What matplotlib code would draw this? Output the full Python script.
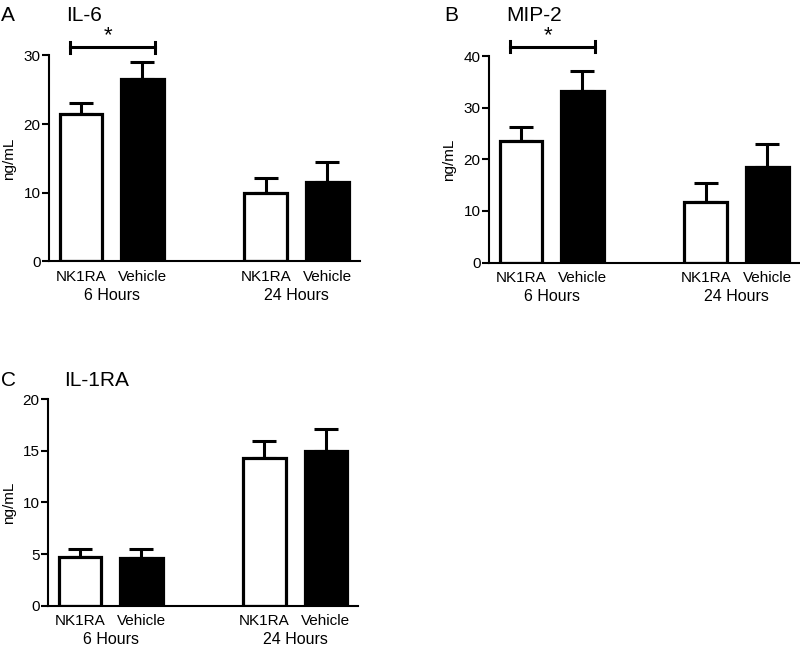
import matplotlib
matplotlib.use('Agg')
import matplotlib.pyplot as plt
import numpy as np

matplotlib.rcParams['font.family'] = ['Liberation Sans', 'DejaVu Sans']

# values: order = NK1RA 6h, Vehicle 6h, NK1RA 24h, Vehicle 24h
groups = ['NK1RA', 'Vehicle', 'NK1RA', 'Vehicle']
times = ['6 Hours', '24 Hours']
il6_mean = [21.4, 26.6, 10.0, 11.5]
il6_sem = [1.6, 2.5, 2.2, 3.0]
mip2_mean = [23.6, 33.3, 11.7, 18.5]
mip2_sem = [2.6, 3.8, 3.7, 4.5]
il1ra_mean = [4.75, 4.6, 14.3, 15.0]
il1ra_sem = [0.7, 0.9, 1.7, 2.1]

xpos = np.array([0, 1, 3, 4])
colors = ['white', 'black', 'white', 'black']


def panel(ax, mean, sem, ymax, step, sig=None):
    ax.errorbar(xpos, mean, yerr=[np.zeros(4), sem], fmt='none', ecolor='black',
                elinewidth=2.2, capsize=8.5, capthick=2.2, zorder=1)
    ax.bar(xpos, mean, width=0.69, color=colors, edgecolor='black',
           linewidth=2.3, zorder=2)
    ax.set_xlim(-0.52, 4.53)
    ax.set_ylim(0, ymax)
    ax.set_yticks(np.arange(0, ymax + 1, step))
    ax.spines['top'].set_visible(False)
    ax.spines['right'].set_visible(False)
    ax.spines['left'].set_linewidth(1.5)
    ax.spines['bottom'].set_linewidth(1.5)
    ax.tick_params(axis='y', direction='out', length=5, width=1.5, pad=1, labelsize=11)
    ax.set_xticks(xpos)
    ax.set_xticklabels(groups, fontsize=11)
    ax.tick_params(axis='x', length=0, pad=6)
    for xc, t in zip([0.5, 3.5], times):
        ax.annotate(t, xy=(xc, 0), xycoords=('data', 'axes fraction'),
                    xytext=(0, -19), textcoords='offset points',
                    ha='center', va='top', fontsize=11.5)
    ax.set_ylabel('ng/mL', fontsize=11, labelpad=5)
    if sig is not None:
        yb = sig
        ax.plot([-0.18, 1.2], [yb, yb], color='black', lw=2.2, clip_on=False)
        h = ymax * 0.027
        ax.plot([-0.18, -0.18], [yb - h, yb + h], color='black', lw=2.2, clip_on=False)
        ax.plot([1.2, 1.2], [yb - h, yb + h], color='black', lw=2.2, clip_on=False)
        ax.text(0.44, yb + ymax * 0.005, '*', ha='center', va='bottom',
                fontsize=16, clip_on=False)


fig = plt.figure(figsize=(8, 6.45), dpi=100)
axA = fig.add_axes([0.061, 0.595, 0.389, 0.319])
axB = fig.add_axes([0.611, 0.593, 0.389, 0.320])
axC = fig.add_axes([0.060, 0.061, 0.388, 0.320])

panel(axA, il6_mean, il6_sem, 30, 10, sig=31.2)
panel(axB, mip2_mean, mip2_sem, 40, 10, sig=41.8)
panel(axC, il1ra_mean, il1ra_sem, 20, 5)

H = 645.0
fig.text(1 / 800, 1 - 6 / H, 'A', fontsize=15, va='top', ha='left')
fig.text(66 / 800, 1 - 6 / H, 'IL-6', fontsize=15, va='top', ha='left')
fig.text(444 / 800, 1 - 6 / H, 'B', fontsize=15, va='top', ha='left')
fig.text(506 / 800, 1 - 6 / H, 'MIP-2', fontsize=15, va='top', ha='left')
fig.text(1 / 800, 1 - 371 / H, 'C', fontsize=15, va='top', ha='left')
fig.text(64 / 800, 1 - 371 / H, 'IL-1RA', fontsize=15, va='top', ha='left')

fig.savefig('out.png', dpi=100)
